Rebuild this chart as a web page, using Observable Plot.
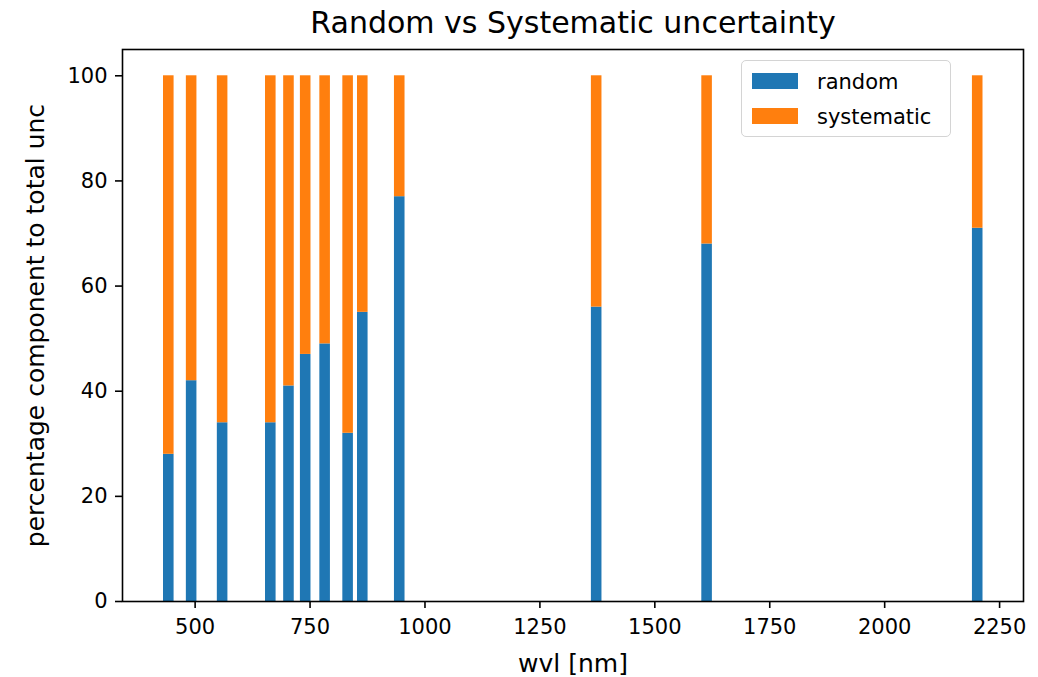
<!DOCTYPE html>
<html><head><meta charset="utf-8">
<script src="https://cdn.jsdelivr.net/npm/d3@7"></script>
<script src="https://cdn.jsdelivr.net/npm/@observablehq/plot@0.6"></script>
<style>
body{margin:0;background:#fff;}
#wrap{position:relative;width:1038px;height:677px;font-family:"DejaVu Sans",sans-serif;}
.legend{position:absolute;left:741px;top:60px;width:210px;height:77px;border:1.6px solid #d4d4d4;border-radius:5px;background:rgba(255,255,255,0.8);box-sizing:border-box;}
.item{position:absolute;left:0;height:20px;}
.sw{position:absolute;left:10px;width:46px;height:16px;}
.lab{position:absolute;left:75px;font-size:21px;line-height:20px;white-space:nowrap;color:#000;}
</style></head>
<body><div id="wrap"></div>
<script>
const wavelengths = [442.7, 492.4, 559.8, 664.6, 704.1, 740.5, 782.8, 832.8, 864.7, 945.1, 1373.5, 1613.7, 2202.4];
const randomPct = [28, 42, 34, 34, 41, 47, 49, 32, 55, 77, 56, 68, 71];
const systematicPct = [72, 58, 66, 66, 59, 53, 51, 68, 45, 23, 44, 32, 29];
const xTicks = [500, 750, 1000, 1250, 1500, 1750, 2000, 2250];
const yTicks = [0, 20, 40, 60, 80, 100];
const seriesNames = ["random", "systematic"];
const seriesColors = ["#1f77b4", "#ff7f0e"];
const titleText = "Random vs Systematic uncertainty";

const barWidth = 23;
const rows = wavelengths.map((w, i) => ({w, r: randomPct[i], s: systematicPct[i]}));

const plot = Plot.plot({
  width: 1038, height: 677,
  marginLeft: 122, marginRight: 15, marginTop: 49, marginBottom: 76,
  style: {fontFamily: "DejaVu Sans, sans-serif", fontSize: "21px", color: "#000", background: "#fff"},
  x: {domain: [342, 2302]},
  y: {domain: [0, 105]},
  marks: [
    Plot.rect(rows, {x1: d => d.w - barWidth/2, x2: d => d.w + barWidth/2, y1: 0, y2: d => d.r, fill: seriesColors[0]}),
    Plot.rect(rows, {x1: d => d.w - barWidth/2, x2: d => d.w + barWidth/2, y1: d => d.r, y2: d => d.r + d.s, fill: seriesColors[1]}),
    Plot.axisX({ticks: xTicks, tickFormat: d => String(d), tickSize: 7, tickPadding: 11, strokeWidth: 1.6, fontSize: 21, label: "wvl [nm]", labelAnchor: "center", labelOffset: 70, labelArrow: "none"}),
    Plot.axisY({ticks: yTicks, tickFormat: d => String(d), tickSize: 7, tickPadding: 8, strokeWidth: 1.6, fontSize: 21, label: "percentage component to total unc", labelAnchor: "center", labelOffset: 96, labelArrow: "none"}),
    Plot.frame({stroke: "#000", strokeWidth: 1.6}),
    Plot.text([titleText], {text: d => d, frameAnchor: "top", lineAnchor: "bottom", dy: -17, fontSize: 30, fill: "#000"})
  ]
});
plot.querySelectorAll('g[aria-label="x-axis label"] text, g[aria-label="y-axis label"] text').forEach(t => t.setAttribute("font-size", "25"));
const wrap = document.getElementById("wrap");
wrap.appendChild(plot);

const leg = document.createElement("div");
leg.className = "legend";
seriesNames.forEach((name, i) => {
  const it = document.createElement("div");
  it.className = "item";
  it.style.top = (i === 0 ? 11 : 46) + "px";
  it.innerHTML = `<div class="sw" style="background:${seriesColors[i]};top:1px"></div><div class="lab">${name}</div>`;
  leg.appendChild(it);
});
wrap.appendChild(leg);
</script>
</body></html>
